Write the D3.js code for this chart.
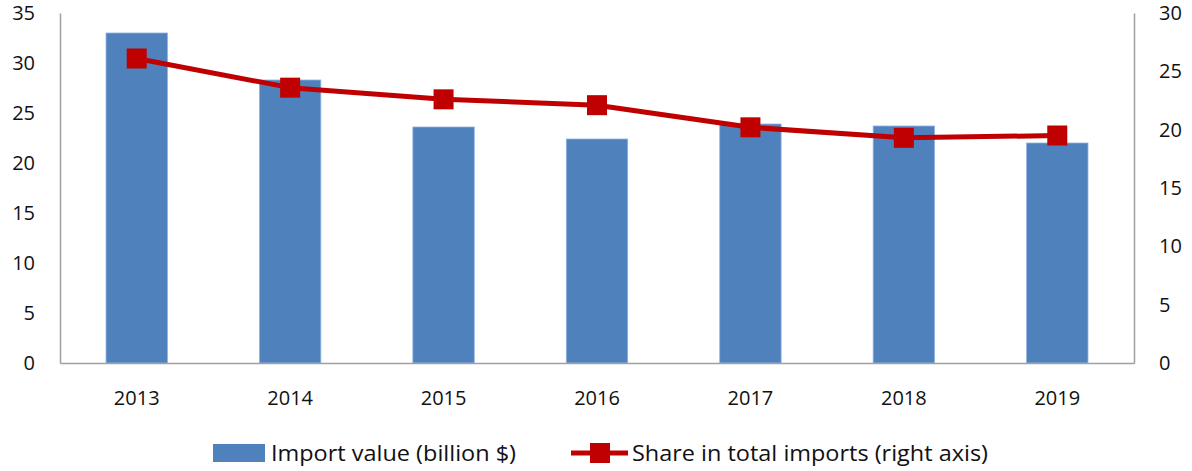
<!DOCTYPE html>
<html><head><meta charset="utf-8">
<script src="https://cdn.jsdelivr.net/npm/d3@7"></script>
<style>body{margin:0;background:#fff}svg{display:block}</style>
</head><body>
<svg id="c" width="1192" height="471"></svg>
<script>
const years = ["2013","2014","2015","2016","2017","2018","2019"];
const importValue = [33.0, 28.3, 23.6, 22.4, 23.9, 23.7, 22.0];
const shareTotal = [26.1, 23.6, 22.6, 22.1, 20.2, 19.3, 19.5];
const leftTicks = [0,5,10,15,20,25,30,35];
const rightTicks = [0,5,10,15,20,25,30];
const seriesNames = ["Import value (billion $)", "Share in total imports (right axis)"];

const svg = d3.select("#c");
const L = 60, R = 1134, T = 13, B = 363;
const font = "'Open Sans', sans-serif";
const x = d3.scaleBand().domain(years).range([L, R]).paddingInner(0.6).paddingOuter(0.3);
const yL = d3.scaleLinear().domain([0,35]).range([B, T]);
const yR = d3.scaleLinear().domain([0,30]).range([B, T]);
const blue = "#4F81BD", red = "#C00000", axisCol = "#A0A0A0";

// bars
svg.append("g").selectAll("rect").data(years).join("rect")
  .attr("x", d => x(d)).attr("width", x.bandwidth())
  .attr("y", (d,i) => yL(importValue[i])).attr("height", (d,i) => B - yL(importValue[i]))
  .attr("fill", blue).attr("stroke", "#8db3e2").attr("stroke-width", 0.8);

// axes
const gL = svg.append("g").attr("transform", `translate(${L},0)`)
  .call(d3.axisLeft(yL).tickValues(leftTicks).tickSize(0).tickPadding(25));
const gR = svg.append("g").attr("transform", `translate(${R},0)`)
  .call(d3.axisRight(yR).tickValues(rightTicks).tickSize(0).tickPadding(25));
const xb = d3.scaleBand().domain(years).range([L, R]);
const gX = svg.append("g").attr("transform", `translate(0,${B})`)
  .call(d3.axisBottom(xb).tickSize(0).tickPadding(28));
[gL, gR, gX].forEach(g => {
  g.select(".domain").attr("stroke", axisCol).attr("stroke-width", 1.5);
  g.selectAll("text").attr("font-family", font).attr("font-size", 20).attr("fill", "#111");
});

// line
const line = d3.line().x((d,i) => x(years[i]) + x.bandwidth()/2).y(d => yR(d));
svg.append("path").datum(shareTotal).attr("d", line)
  .attr("fill", "none").attr("stroke", red).attr("stroke-width", 5).attr("stroke-linejoin", "round");
svg.append("g").selectAll("rect").data(shareTotal).join("rect")
  .attr("x", (d,i) => x(years[i]) + x.bandwidth()/2 - 10)
  .attr("y", d => yR(d) - 10).attr("width", 20).attr("height", 20).attr("fill", red);

// legend
const lg = svg.append("g");
lg.append("rect").attr("x", 213).attr("y", 444).attr("width", 52).attr("height", 18).attr("fill", blue);
lg.append("text").attr("x", 271).attr("y", 461).text(seriesNames[0])
  .attr("font-family", font).attr("font-size", 21).attr("fill", "#111")
  .attr("textLength", 245).attr("lengthAdjust", "spacingAndGlyphs");
lg.append("line").attr("x1", 571).attr("x2", 628).attr("y1", 453).attr("y2", 453)
  .attr("stroke", red).attr("stroke-width", 5);
lg.append("rect").attr("x", 590).attr("y", 443).attr("width", 20).attr("height", 20).attr("fill", red);
lg.append("text").attr("x", 632).attr("y", 461).text(seriesNames[1])
  .attr("font-family", font).attr("font-size", 21).attr("fill", "#111")
  .attr("textLength", 356).attr("lengthAdjust", "spacingAndGlyphs");
</script>
</body></html>
